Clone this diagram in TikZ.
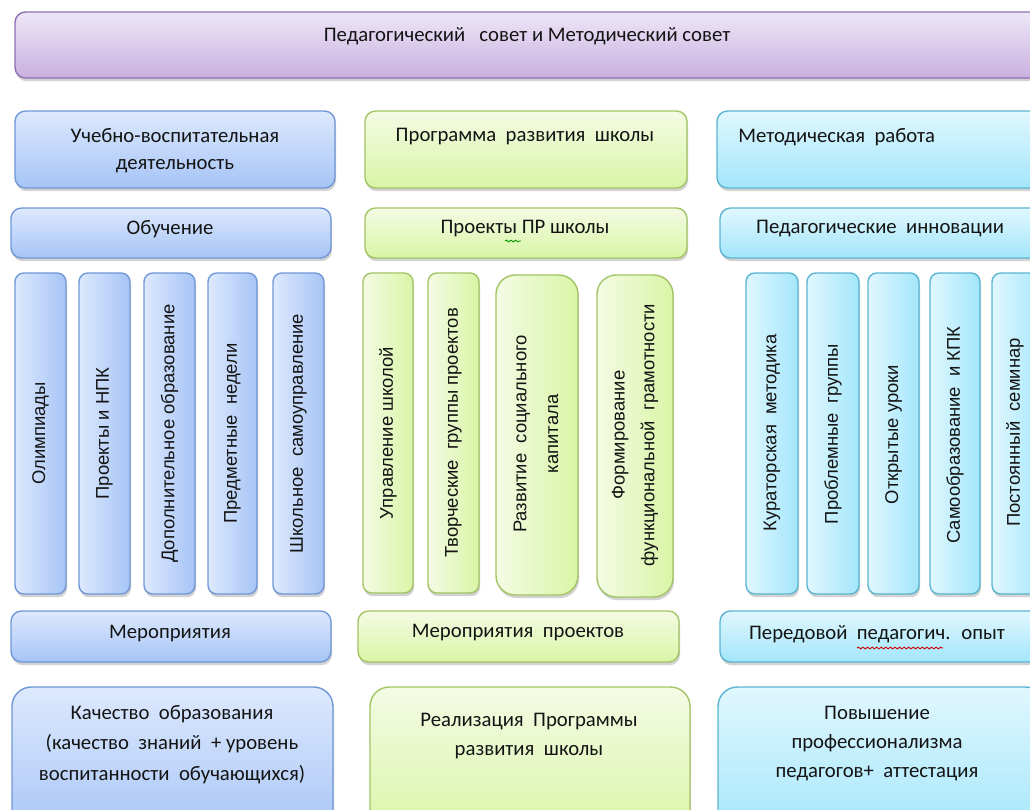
\documentclass[tikz,border=0pt]{standalone}
\usepackage{fontspec}
\setmainfont{Carlito}
\newfontfamily\vfont{Liberation Sans}
\usetikzlibrary{shadows,decorations.pathmorphing}
\definecolor{purtop}{HTML}{EDE6F7}
\definecolor{purbot}{HTML}{C9B1E0}
\definecolor{purline}{HTML}{8E70B3}
\definecolor{blutop}{HTML}{DDE9FD}
\definecolor{blubot}{HTML}{A6C4F6}
\definecolor{bluline}{HTML}{7097D6}
\definecolor{grntop}{HTML}{F4FBE4}
\definecolor{grnbot}{HTML}{D9F5A6}
\definecolor{grnline}{HTML}{A2C465}
\definecolor{cyntop}{HTML}{E0F7FE}
\definecolor{cynbot}{HTML}{A3E6FB}
\definecolor{cynline}{HTML}{5BB4D0}
\definecolor{txt}{HTML}{141414}
\newcommand\rbox[6]{\node[#2, minimum width={(#5-#3)*0.02cm}, minimum height={(#6-#4)*0.02cm}] (#1) at ({(#3+#5)/2},{(#4+#6)/2}) {};}
\begin{document}
\begin{tikzpicture}[x=0.02cm,y=-0.02cm,
  box/.style={draw, line width=0.8pt, inner sep=0pt,
    drop shadow={shadow xshift=0.6pt,shadow yshift=-1.8pt,opacity=0.35}},
  purbox/.style={box, rounded corners=6pt, draw=purline, top color=purtop, bottom color=purbot},
  blubox/.style={box, rounded corners=6pt, draw=bluline, top color=blutop, bottom color=blubot},
  grnbox/.style={box, rounded corners=6pt, draw=grnline, top color=grntop, bottom color=grnbot},
  cynbox/.style={box, rounded corners=6pt, draw=cynline, top color=cyntop, bottom color=cynbot},
  bluv/.style={box, rounded corners=5pt, draw=bluline, left color=blutop, right color=blubot},
  grnv/.style={box, rounded corners=5pt, draw=grnline, left color=grntop, right color=grnbot},
  cynv/.style={box, rounded corners=5pt, draw=cynline, left color=cyntop, right color=cynbot},
  bigr/.style={rounded corners=11pt},
  htext/.style={inner sep=0pt, text=txt, align=center, font=\fontsize{11.8}{16}\selectfont},
  vtext/.style={inner sep=0pt, text=txt, align=center, rotate=90, font=\vfont\fontsize{10.5}{18}\selectfont},
  wave/.style={decorate, decoration={snake, amplitude=0.5pt, segment length=2.6pt}, line width=0.5pt}
]
\useasboundingbox (0,0) rectangle (1030,809);
\clip (0,0) rectangle (1030,809);
\fill[white] (0,0) rectangle (1030,809);
% top
\rbox{pc}{purbox}{15}{12}{1042}{78}
\node[htext] (tpc) at (527,36) {Педагогический \ \ совет и Методический совет};
% row 2
\rbox{uvd}{blubox}{15}{111}{335}{188}
\node[htext, font=\fontsize{11.8}{15.5}\selectfont] (tuvd) at (175,150.5) {Учебно-воспитательная\\деятельность};
\rbox{prs}{grnbox}{365}{111}{687}{188}
\node[htext] (tprs) at (525,137) {Программа \ развития \ школы};
\rbox{mr}{cynbox}{717}{111}{1045}{188}
\node[htext, anchor=west] (tmr) at (738,137) {Методическая \ работа};
% row 3
\rbox{ob}{blubox}{11}{208}{331}{258}
\node[htext] (tob) at (170,229) {Обучение};
\rbox{pps}{grnbox}{365}{208}{687}{258}
\node[htext] (tpps) at (525,229) {Проекты ПР школы};
\rbox{pi}{cynbox}{720}{208}{1045}{258}
\node[htext] (tpi) at (880,229) {Педагогические \ инновации};
% verticals blue
\rbox{v1}{bluv}{15}{273}{66}{594}
\node[vtext] (tv1) at (40.5,433.5) {Олимпиады};
\rbox{v2}{bluv}{79}{273}{130}{594}
\node[vtext] (tv2) at (104.5,433.5) {Проекты и НПК};
\rbox{v3}{bluv}{144}{273}{195}{594}
\node[vtext] (tv3) at (169.5,433.5) {Дополнительное образование};
\rbox{v4}{bluv}{208}{273}{257}{594}
\node[vtext] (tv4) at (232.5,433.5) {Предметные \ недели};
\rbox{v5}{bluv}{273}{273}{324}{594}
\node[vtext] (tv5) at (298.5,433.5) {Школьное \ самоуправление};
% verticals green
\rbox{g1}{grnv}{363}{273}{413}{593}
\node[vtext] (tg1) at (388,433) {Управление школой};
\rbox{g2}{grnv}{428}{273}{479}{593}
\node[vtext] (tg2) at (453.5,433) {Творческие \ группы проектов};
\rbox{g3}{grnv, bigr}{496}{275}{578}{595}
\node[vtext] (tg3) at (536,434) {Развитие \ социального\\капитала};
\rbox{g4}{grnv, bigr}{597}{275}{673}{597}
\node[vtext, font=\vfont\fontsize{10.5}{17}\selectfont] (tg4) at (635,435) {Формирование\\функциональной \ грамотности};
% verticals cyan
\rbox{c1}{cynv}{746}{273}{798}{594}
\node[vtext] (tc1) at (772,433) {Кураторская \ методика};
\rbox{c2}{cynv}{807}{273}{859}{594}
\node[vtext] (tc2) at (833,434) {Проблемные \ группы};
\rbox{c3}{cynv}{868}{273}{919}{594}
\node[vtext] (tc3) at (893.5,434.5) {Открытые уроки};
\rbox{c4}{cynv}{930}{273}{980}{594}
\node[vtext] (tc4) at (955,435) {Самообразование \ и КПК};
\rbox{c5}{cynv}{992}{273}{1045}{594}
\node[vtext] (tc5) at (1015,432.5) {Постоянный \ семинар};
% row 5
\rbox{mer}{blubox}{11}{611}{331}{662}
\node[htext] (tmer) at (170,634) {Мероприятия};
\rbox{merp}{grnbox}{358}{611}{679}{662}
\node[htext] (tmerp) at (518,633) {Мероприятия \ проектов};
\rbox{ppo}{cynbox}{720}{611}{1045}{662}
\node[htext] (tppo) at (877,634) {Передовой \ педагогич. \ опыт};
% row 6
\rbox{ko}{blubox, bigr}{12}{687}{333}{840}
\node[htext, font=\fontsize{11.8}{17.3}\selectfont] (tko) at (172,744.5) {Качество \ образования\\(качество \ знаний \ + уровень\\воспитанности \ обучающихся)};
\rbox{rp}{grnbox, bigr}{370}{687}{690}{840}
\node[htext, font=\fontsize{11.8}{16}\selectfont] (trp) at (529,736) {Реализация \ Программы\\развития \ школы};
\rbox{pp}{cynbox, bigr}{718}{687}{1045}{840}
\node[htext, font=\fontsize{11.8}{16.7}\selectfont] (tpp) at (877,743.5) {Повышение\\профессионализма\\педагогов+ \ аттестация};
% spell-check underlines
\draw[wave, green!60!black] (505,241) -- (521,241);
\draw[wave, red!80!black] (857,648) -- (943,648);
\end{tikzpicture}
\end{document}
